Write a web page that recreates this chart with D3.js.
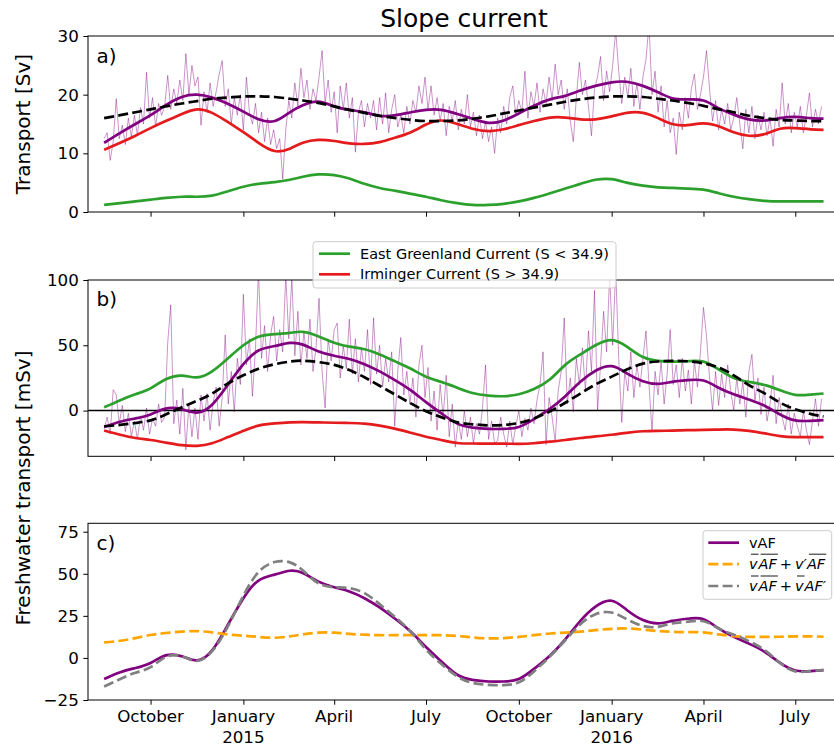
<!DOCTYPE html>
<html>
<head>
<meta charset="utf-8">
<script src="https://cdn.jsdelivr.net/npm/d3@7"></script>
<style>
  body { margin: 0; background: #fff; }
  svg { display: block; font-family: "DejaVu Sans", sans-serif; }
</style>
</head>
<body>
<svg id="chart" width="834" height="748"></svg>
<script>
// ---- Data -------------------------------------------------------------
// Knot dates of the low-passed curves (1st and 16th of each month)
const smoothDates = [
  "2014-08-16","2014-09-01","2014-09-16","2014-10-01","2014-10-16","2014-11-01","2014-11-16","2014-12-01","2014-12-16",
  "2015-01-01","2015-01-16","2015-02-01","2015-02-16","2015-03-01","2015-03-16","2015-04-01","2015-04-16","2015-05-01",
  "2015-05-16","2015-06-01","2015-06-16","2015-07-01","2015-07-16","2015-08-01","2015-08-16","2015-09-01","2015-09-16",
  "2015-10-01","2015-10-16","2015-11-01","2015-11-16","2015-12-01","2015-12-16","2016-01-01","2016-01-16","2016-02-01",
  "2016-02-16","2016-03-01","2016-03-16","2016-04-01","2016-04-16","2016-05-01","2016-05-16","2016-06-01","2016-06-16",
  "2016-07-01","2016-07-16","2016-07-29"
];

// a) volume transport [Sv]
const transTotal = [11.8,13.5,15.0,16.5,18.2,19.6,20.0,19.5,18.5,17.1,15.8,15.5,17.0,18.2,18.8,18.0,17.4,17.0,16.4,16.5,17.0,17.4,17.4,16.7,15.9,15.2,15.6,16.8,18.1,19.2,19.8,20.7,21.5,22.1,22.2,21.5,20.4,19.4,19.2,19.0,17.7,16.6,15.8,15.6,16.0,16.2,16.0,15.9];
const transTrend = [16.0,16.5,17.0,17.5,18.0,18.5,18.9,19.3,19.5,19.7,19.7,19.6,19.3,19.0,18.6,18.0,17.4,16.9,16.4,16.0,15.7,15.5,15.5,15.6,15.9,16.3,16.8,17.3,17.8,18.3,18.8,19.2,19.5,19.7,19.7,19.6,19.3,19.0,18.6,18.1,17.5,17.0,16.4,16.0,15.7,15.6,15.5,15.5];
const transIC    = [10.6,11.8,13.0,14.3,15.5,16.7,17.5,16.9,15.4,13.6,11.8,10.4,10.8,11.8,12.3,12.1,11.7,11.6,11.9,12.7,13.6,14.9,15.6,15.0,14.2,13.8,14.1,14.8,15.5,16.1,16.1,15.8,15.8,16.3,16.9,16.9,16.0,15.0,14.8,15.1,14.6,13.6,13.0,13.3,14.2,14.3,14.1,14.0];
const transEGC   = [1.2,1.5,1.8,2.1,2.4,2.6,2.6,2.8,3.5,4.3,4.8,5.1,5.5,6.0,6.4,6.3,5.7,4.8,4.1,3.6,3.1,2.6,2.0,1.5,1.2,1.2,1.4,1.8,2.4,3.2,4.0,4.8,5.5,5.6,5.0,4.5,4.2,4.1,4.0,3.8,3.2,2.6,2.2,1.9,1.8,1.8,1.8,1.8];

// b) and c) freshwater transport [mSv]
const fwTotal    = [-12.5,-8.5,-6.0,-3.0,1.5,1.0,-1.5,4.5,19.0,35.5,46.0,49.5,51.8,50.5,45.5,42.0,39.5,35.5,30.0,23.0,15.5,6.5,-2.0,-10.0,-13.0,-14.0,-14.0,-12.5,-6.5,1.5,11.0,22.0,30.5,34.0,28.5,22.5,20.5,22.0,23.3,23.0,17.5,12.5,8.5,3.5,-3.0,-7.5,-7.8,-7.3];
const fwTrend    = [-12.0,-11.0,-9.5,-7.5,-3.0,2.5,7.5,13.0,20.5,27.0,32.0,35.5,37.5,38.2,37.2,35.0,31.0,25.5,19.0,12.0,5.5,-0.5,-5.0,-9.0,-10.5,-11.3,-11.0,-9.5,-6.0,-0.5,6.0,13.0,20.0,26.0,31.5,36.0,37.6,38.0,37.8,36.2,33.0,27.0,19.5,13.0,6.0,1.0,-2.5,-4.5];
const fwEGC      = [2.5,8.0,12.5,17.0,24.0,26.8,25.4,30.0,39.5,50.0,56.5,58.5,59.5,60.3,57.0,52.0,49.0,47.0,43.0,37.5,32.0,26.0,22.0,17.5,13.5,11.5,11.0,12.5,16.5,24.0,35.0,43.0,50.0,54.0,49.0,41.0,38.0,37.5,37.8,37.5,31.5,25.0,22.0,19.5,15.5,12.0,12.2,13.1];
const fwIC       = [-15.2,-18.5,-21.0,-22.5,-24.5,-26.5,-27.0,-25.0,-20.5,-15.5,-11.5,-9.8,-9.0,-8.8,-9.0,-9.3,-9.5,-10.0,-11.5,-14.0,-17.0,-20.0,-22.5,-24.8,-25.2,-25.3,-25.3,-25.5,-25.0,-23.8,-22.5,-21.0,-19.8,-18.5,-17.0,-15.8,-15.5,-15.3,-15.0,-14.8,-14.5,-14.5,-15.5,-17.5,-19.5,-20.3,-20.3,-20.3];
const fwMeanVel  = [9.2,10.2,11.8,13.6,14.8,15.6,15.9,15.2,14.0,13.2,12.5,12.0,12.8,14.0,15.0,15.0,14.3,13.8,13.5,13.5,13.6,13.6,13.5,13.0,12.2,11.6,11.8,12.5,13.5,14.5,15.0,15.6,16.5,17.3,17.5,16.8,16.0,15.5,15.3,15.2,14.0,13.0,12.5,12.5,12.6,12.8,12.8,12.6];
const fwMeanArea = [-17.0,-12.5,-8.8,-5.5,0.5,1.0,-1.8,4.0,18.0,37.0,51.0,57.0,56.8,52.0,44.5,42.0,41.5,38.5,32.0,24.0,15.5,5.0,-3.5,-11.0,-14.8,-16.0,-16.2,-14.5,-8.0,1.0,10.5,20.0,26.0,27.0,23.0,19.0,18.5,20.5,21.5,21.8,17.5,13.8,10.0,4.5,-3.0,-8.0,-7.8,-7.2];

// Unfiltered records, one value every 3 days from the first date
const dailyStart = "2014-08-16";
const dailyStepDays = 3;
const dailyTrans = [
  12.5,13.5,8.8,12.0,19.3,12.5,14.8,11.5,16.0,12.8,
  16.5,13.0,17.8,15.0,23.8,16.0,19.5,14.5,18.5,16.5,
  18.0,23.3,17.5,21.0,18.5,22.5,19.0,27.0,20.0,25.0,
  21.5,23.0,14.8,20.5,17.0,22.0,18.0,20.5,23.5,25.8,
  18.0,21.0,15.0,19.5,16.5,20.0,14.0,23.0,17.0,15.0,
  18.5,13.5,17.0,12.0,16.0,11.5,14.0,10.8,12.5,5.6,
  14.0,19.0,16.0,22.0,18.0,24.5,19.5,22.5,17.5,21.0,
  19.0,23.0,27.5,18.5,22.5,17.0,20.5,13.5,21.5,17.5,
  22.0,16.0,19.5,10.2,17.0,19.0,14.5,18.5,16.0,19.0,
  14.0,19.5,15.0,20.3,13.5,17.5,20.0,14.5,16.5,13.5,
  18.0,15.0,19.0,17.0,21.5,18.5,23.0,17.5,21.5,16.5,
  19.5,15.5,18.5,13.0,18.0,15.5,19.0,14.0,17.5,15.0,
  20.0,14.5,17.0,13.0,16.5,12.5,15.5,12.0,14.5,10.0,
  16.0,13.5,18.0,15.0,19.5,21.5,16.5,19.0,17.0,24.0,
  16.0,20.5,18.0,22.0,17.0,21.0,18.5,23.0,19.0,25.2,
  20.0,22.5,17.5,21.0,15.5,12.0,19.5,25.5,20.0,22.5,
  18.0,13.0,21.0,23.0,26.5,19.0,24.0,20.5,25.0,31.0,
  24.0,18.5,23.0,19.5,24.5,18.0,22.0,17.5,23.0,26.0,
  32.0,20.0,24.0,17.0,21.5,14.5,19.0,13.5,16.0,9.8,
  17.0,14.0,19.5,16.0,21.0,23.5,17.5,20.0,23.0,27.5,
  21.0,15.5,19.0,14.0,17.5,15.0,18.5,14.0,16.0,19.5,
  15.0,10.8,17.5,13.5,18.0,12.5,16.5,14.0,17.0,13.0,
  16.0,11.2,17.5,14.5,22.0,15.0,18.5,13.5,17.0,14.5,
  18.0,13.5,16.5,20.3,14.5,17.5,15.0,18.0
];
const dailyFw = [
  -14,-5,-18,16,12,-10,4,-16,-2,-20,
  -8,-22,-4,-15,2,-18,-6,-12,5,-9,
  -5,52,81,-10,8,-18,17,-30,5,-20,
  2,-22,12,-8,13,-15,6,18,-12,10,
  58,5,30,-1,40,20,89,35,55,11,
  48,108,40,65,30,58,72,38,62,45,
  104,55,102,42,76,35,60,40,70,30,
  48,86,30,2,55,38,62,67,25,50,
  32,70,28,55,22,48,30,62,20,71,
  28,50,18,40,22,45,-12,30,56,12,
  30,5,25,-5,35,50,10,33,-8,15,
  -15,20,-5,27,-20,5,-28,-8,-22,0,
  -20,-5,-25,-10,-18,2,35,-22,-8,-25,
  -23,-5,-18,-28,-8,-26,-12,0,-20,-6,
  -15,2,-10,8,20,45,-26,10,-5,-24,
  15,30,71,5,25,-1,40,20,48,15,
  61,30,92,0,35,76,45,104,50,108,
  40,-9,30,15,45,10,35,18,40,61,
  20,-16,30,12,38,5,28,62,20,35,
  10,40,15,31,5,38,18,45,79,57,
  25,0,30,4,28,10,35,15,0,25,
  5,22,-5,30,43,8,25,-3,18,-8,
  5,27,-10,10,-5,-15,5,-18,-2,-12,
  -20,0,-15,-26,-8,9,-12,9
];

// Axis ticks
const xTickDates  = ["2014-10-01","2015-01-01","2015-04-01","2015-07-01","2015-10-01","2016-01-01","2016-04-01","2016-07-01"];
const xTickLabels = ["October","January\n2015","April","July","October","January\n2016","April","July"];
const yTicksA = [0, 10, 20, 30];
const yTicksB = [0, 50, 100];
const yTicksC = [-25, 0, 25, 50, 75];

// ---- Styling -------------------------------------------------------------
const C = {
  purple: "#800080", green: "#2ca02c", red: "#e41a1c",
  orange: "#ffa500", gray: "#808080", black: "#000000"
};
const LW = 2.7;
const DASH = "10,4.3";
const TICK_FONT = 16.7;

// ---- Setup ---------------------------------------------------------------
const parse = d3.utcParse("%Y-%m-%d");
const svg = d3.select("#chart");
const left = 88, right = 840.7;
const x = d3.scaleUtc()
  .domain([parse("2014-07-31"), parse("2016-08-15")])
  .range([left, right]);

const knots = smoothDates.map(parse);
const dailyDates = dailyTrans.map((_, i) => d3.utcDay.offset(parse(dailyStart), i * dailyStepDays));
const pairs = (dates, vals) => vals.map((v, i) => [dates[i], v]);

function makePanel(top, bottom, domain, ticks, id) {
  const y = d3.scaleLinear().domain(domain).range([bottom, top]);
  const g = svg.append("g");
  svg.append("clipPath").attr("id", id).append("rect")
    .attr("x", left).attr("y", top).attr("width", right - left).attr("height", bottom - top);
  const plot = g.append("g").attr("clip-path", `url(#${id})`);
  const smooth = d3.line().x(d => x(d[0])).y(d => y(d[1])).curve(d3.curveNatural);
  const raw = d3.line().x(d => x(d[0])).y(d => y(d[1]));
  const p = { y, g, plot, top, bottom, ticks };
  p.smooth = (vals, color, dashed) => plot.append("path")
    .datum(pairs(knots, vals)).attr("d", smooth)
    .attr("fill", "none").attr("stroke", color).attr("stroke-width", LW)
    .attr("stroke-dasharray", dashed ? DASH : null);
  p.raw = (vals) => plot.append("path")
    .datum(pairs(dailyDates, vals)).attr("d", raw)
    .attr("fill", "none").attr("stroke", C.purple).attr("stroke-opacity", 0.42)
    .attr("stroke-width", 1).attr("stroke-linejoin", "round");
  return p;
}

function finishPanel(p, showLabels) {
  // frame
  p.g.append("rect").attr("x", left).attr("y", p.top)
    .attr("width", right - left).attr("height", p.bottom - p.top)
    .attr("fill", "none").attr("stroke", "#000").attr("stroke-width", 1);
  // y axis
  const ya = p.g.append("g").attr("transform", `translate(${left},0)`)
    .call(d3.axisLeft(p.y).tickValues(p.ticks).tickSize(4.7).tickPadding(4.5));
  ya.select(".domain").remove();
  ya.selectAll("text").attr("font-size", TICK_FONT).attr("font-family", "DejaVu Sans").attr("fill", "#000");
  ya.selectAll("line").attr("stroke", "#000");
  // x axis
  const xa = p.g.append("g").attr("transform", `translate(0,${p.bottom})`)
    .call(d3.axisBottom(x).tickValues(xTickDates.map(parse)).tickSize(4.7).tickFormat(""));
  xa.select(".domain").remove();
  xa.selectAll("line").attr("stroke", "#000");
  if (showLabels) {
    xTickDates.forEach((d, i) => {
      const t = p.g.append("text").attr("x", x(parse(d))).attr("y", p.bottom + 22.4)
        .attr("text-anchor", "middle").attr("font-size", TICK_FONT).attr("fill", "#000");
      xTickLabels[i].split("\n").forEach((s, k) => {
        t.append("tspan").attr("x", x(parse(d))).attr("dy", k === 0 ? 0 : 20.6).text(s);
      });
    });
  }
}

function panelLabel(p, txt, yBase) {
  p.g.append("text").attr("x", 96.5).attr("y", yBase).attr("font-size", 20).text(txt);
}

// ---- Panel a -------------------------------------------------------------
const A = makePanel(36, 212, [0, 30], yTicksA, "clipA");
A.raw(dailyTrans);
A.smooth(transEGC, C.green);
A.smooth(transIC, C.red);
A.smooth(transTotal, C.purple);
A.smooth(transTrend, C.black, true);
finishPanel(A, false);
panelLabel(A, "a)", 63.3);

// ---- Panel b -------------------------------------------------------------
const B = makePanel(280, 456.3, [-35, 100], yTicksB, "clipB");
B.raw(dailyFw);
B.plot.append("line").attr("x1", left).attr("x2", right)
  .attr("y1", B.y(0)).attr("y2", B.y(0)).attr("stroke", "#000").attr("stroke-width", 1.5);
B.smooth(fwEGC, C.green);
B.smooth(fwIC, C.red);
B.smooth(fwTotal, C.purple);
B.smooth(fwTrend, C.black, true);
finishPanel(B, false);
panelLabel(B, "b)", 306.3);

// ---- Panel c -------------------------------------------------------------
const Cp = makePanel(523.3, 700, [-25, 80], yTicksC, "clipC");
Cp.smooth(fwTotal, C.purple);
Cp.smooth(fwMeanVel, C.orange, true);
Cp.smooth(fwMeanArea, C.gray, true);
finishPanel(Cp, true);
panelLabel(Cp, "c)", 550);

// ---- Titles and axis labels ---------------------------------------------
svg.append("text").attr("x", 464).attr("y", 27.3).attr("text-anchor", "middle")
  .attr("font-size", 25).text("Slope current");
svg.append("text").attr("transform", "translate(29.6,124) rotate(-90)")
  .attr("text-anchor", "middle").attr("font-size", 20).text("Transport [Sv]");
svg.append("text").attr("transform", "translate(29.6,488) rotate(-90)")
  .attr("text-anchor", "middle").attr("font-size", 20).text("Freshwater transport [mSv]");

// ---- Legends -------------------------------------------------------------
const LEG_FONT = 14.5;
function legendBox(x0, y0, w, h) {
  return svg.append("rect").attr("x", x0).attr("y", y0).attr("width", w).attr("height", h)
    .attr("rx", 3).attr("fill", "#fff").attr("fill-opacity", 0.8)
    .attr("stroke", "#cccccc").attr("stroke-width", 1);
}
function legendHandle(x0, x1, y, color, dashed) {
  svg.append("line").attr("x1", x0).attr("x2", x1).attr("y1", y).attr("y2", y)
    .attr("stroke", color).attr("stroke-width", LW).attr("stroke-dasharray", dashed ? DASH : null);
}

// legend of panel b
legendBox(313, 241.7, 303, 46.3);
legendHandle(319, 350, 253.7, C.green);
legendHandle(319, 350, 274.3, C.red);
svg.append("text").attr("x", 360).attr("y", 258.8).attr("font-size", LEG_FONT).text("East Greenland Current (S < 34.9)");
svg.append("text").attr("x", 360).attr("y", 279.4).attr("font-size", LEG_FONT).text("Irminger Current (S > 34.9)");

// legend of panel c, with overlined math terms
legendBox(703, 530.7, 128.7, 68.6);
legendHandle(708.3, 739, 542.7, C.purple);
legendHandle(708.3, 739, 564.2, C.orange, true);
legendHandle(708.3, 739, 586, C.gray, true);
svg.append("text").attr("x", 749).attr("y", 547.7).attr("font-size", LEG_FONT).text("vAF");

function mathLabel(x0, yBase, segs) {
  let cx = x0;
  segs.forEach(s => {
    if (s.gap) { cx += s.gap; return; }
    const t = svg.append("text").attr("x", cx).attr("y", yBase)
      .attr("font-size", LEG_FONT).attr("font-style", s.it ? "italic" : null).text(s.t);
    const w = t.node().getComputedTextLength();
    if (s.bar) {
      svg.append("line").attr("x1", cx + 2).attr("x2", cx + w + 1)
        .attr("y1", yBase - 14.6).attr("y2", yBase - 14.6)
        .attr("stroke", "#000").attr("stroke-width", 0.9);
    }
    cx += w + (s.after || 0);
  });
}
mathLabel(749, 568.8, [
  { t: "v", it: true, bar: true, after: 1 },
  { t: "AF", it: true, bar: true },
  { gap: 3 }, { t: "+" }, { gap: 3 },
  { t: "v′", it: true },
  { t: "AF", it: true, bar: true }
]);
mathLabel(749, 590.6, [
  { t: "v", it: true, bar: true, after: 1 },
  { t: "AF", it: true, bar: true },
  { gap: 3 }, { t: "+" }, { gap: 3 },
  { t: "v", it: true, bar: true, after: 1 },
  { t: "AF′", it: true }
]);
</script>
</body>
</html>
